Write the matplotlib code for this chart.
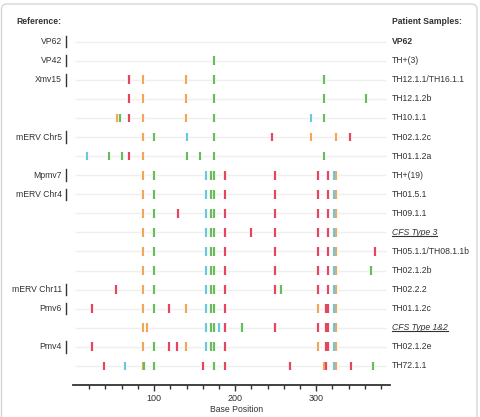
import matplotlib
matplotlib.use("Agg")
import matplotlib.pyplot as plt
from matplotlib.transforms import blended_transform_factory
from matplotlib.patches import FancyBboxPatch
from matplotlib.lines import Line2D

plt.rcParams['font.family'] = ['Liberation Sans', 'DejaVu Sans']

samples = ["VP62", "TH+(3)", "TH12.1.1/TH16.1.1", "TH12.1.2b", "TH10.1.1",
           "TH02.1.2c", "TH01.1.2a", "TH+(19)", "TH01.5.1", "TH09.1.1",
           "CFS Type 3", "TH05.1.1/TH08.1.1b", "TH02.1.2b", "TH02.2.2",
           "TH01.1.2c", "CFS Type 1&2", "TH02.1.2e", "TH72.1.1"]

references = {0: "VP62", 1: "VP42", 2: "Xmv15", 5: "mERV Chr5", 7: "Mpmv7",
              8: "mERV Chr4", 13: "mERV Chr11", 14: "Pmv6", 16: "Pmv4"}

red_pos = [
    [], [], [69], [69], [69], [246, 342], [69],
    [188, 249, 302, 315],
    [188, 249, 302, 315],
    [129, 188, 249, 302, 315],
    [188, 219, 249, 302, 315],
    [188, 249, 302, 315, 372],
    [188, 249, 302, 315],
    [53, 188, 249, 302, 315],
    [24, 118, 188, 312.5, 315],
    [188, 249, 302, 312.5, 315],
    [24, 118, 128.5, 188, 312.5, 315],
    [38, 160.5, 188, 268, 312.5, 342.5],
]

orange_pos = [
    [], [], [86, 139], [86, 139], [54, 86, 139], [86, 293, 324], [86],
    [86, 324], [86, 324], [86, 324], [86, 324], [86, 324], [86, 324], [86, 324],
    [86, 139, 302, 324],
    [86, 91, 324],
    [86, 139, 302, 324],
    [86, 310, 324],
]

green_pos = [
    [], [174], [174, 309], [174, 309, 361], [58.5, 174, 309], [100.5, 174],
    [45, 60.5, 140, 156.5, 174, 309],
    [100.5, 170.5, 174], [100.5, 170.5, 174], [100.5, 170.5, 174],
    [100.5, 170.5, 174], [100.5, 170.5, 174], [100.5, 170.5, 174, 368],
    [100.5, 170.5, 174, 256],
    [100.5, 170.5, 174],
    [170.5, 174, 209],
    [100.5, 170.5, 174],
    [87, 100.5, 174, 370],
]

cyan_pos = [
    [], [], [], [], [293], [140], [17],
    [164, 321.5], [164, 321.5], [164, 321.5], [164, 321.5], [164, 321.5],
    [164, 321.5], [164, 321.5], [164, 321.5], [164, 180, 321.5], [164, 321.5],
    [64, 321.5],
]

colors = {"red": "#e2475f", "orange": "#f2a65a", "green": "#67bd5b", "cyan": "#6ec6dc"}
series = [("orange", orange_pos), ("green", green_pos), ("red", red_pos), ("cyan", cyan_pos)]

FS = 6.2
W, H = 481, 417
fig = plt.figure(figsize=(W / 100, H / 100), dpi=100)

# outer rounded frame
frame = FancyBboxPatch((1.5 / W, -0.05), (477 - 1.5) / W, 1.05 - 4 / H,
                       boxstyle="round,pad=0,rounding_size=0.012",
                       transform=fig.transFigure, facecolor="none",
                       edgecolor="#d6d6d6", lw=1.0)
fig.patches.append(frame)

ax_top, ax_bot = 28.3, 385
ax = fig.add_axes([73 / W, 1 - ax_bot / H, (390 - 73) / W, (ax_bot - ax_top) / H])
ax.set_xlim(0, 391)
ax.set_ylim(19, 0.3)
for s in ["top", "right", "left"]:
    ax.spines[s].set_visible(False)
ax.spines["bottom"].set_linewidth(1.3)
ax.spines["bottom"].set_color("#333333")
ax.set_yticks([])
ax.set_xticks([100, 200, 300])
ax.set_xticks(list(range(20, 391, 20)), minor=True)
ax.tick_params(axis="x", which="major", length=4, width=1, color="#333333",
               labelsize=FS + 0.3, labelcolor="#333333", pad=2.5)
ax.tick_params(axis="x", which="minor", length=3, width=1, color="#333333")

rows = list(range(1, len(samples) + 1))
ax.hlines(rows, 3, 386, color="#efefef", lw=1, zorder=1)

half = 0.23
for cname, pos in series:
    for i, plist in enumerate(pos):
        if plist:
            ax.vlines(plist, rows[i] - half, rows[i] + half, color="white", lw=3.2, zorder=2)
for cname, pos in series:
    for i, plist in enumerate(pos):
        if plist:
            ax.vlines(plist, rows[i] - half, rows[i] + half, color=colors[cname], lw=1.6, zorder=3)

tr = blended_transform_factory(fig.transFigure, ax.transData)

# headers
fig.text(62 / W, 1 - 22 / H, "Reference:", ha="right", va="center", fontsize=FS,
         fontweight="bold", color="#333333")
fig.text(392 / W, 1 - 22 / H, "Patient Samples:", ha="left", va="center", fontsize=FS,
         fontweight="bold", color="#333333")

for i, lab in references.items():
    fig.text(62 / W, rows[i], lab, transform=tr, ha="right", va="center",
             fontsize=FS, color="#333333")
    fig.add_artist(Line2D([65.7 / W, 65.7 / W], [rows[i] - 0.3, rows[i] + 0.3],
                          transform=tr, color="#333333", lw=1))

underline_texts = []
for i, lab in enumerate(samples):
    kw = {}
    if i == 0:
        kw["fontweight"] = "bold"
    if lab.startswith("CFS"):
        kw["fontstyle"] = "italic"
    t = fig.text(392 / W, rows[i], lab, transform=tr, ha="left", va="center",
                 fontsize=FS, color="#333333", **kw)
    if lab.startswith("CFS"):
        underline_texts.append(t)

fig.text(237 / W, 1 - 409 / H, "Base Position", ha="center", va="center",
         fontsize=FS, color="#333333")

fig.canvas.draw()
r = fig.canvas.get_renderer()
for t in underline_texts:
    bb = t.get_window_extent(r)
    inv = fig.transFigure.inverted()
    (x0, y0), (x1, y1) = inv.transform([(bb.x0, bb.y0 + 1.2), (bb.x1, bb.y0 + 1.2)])
    fig.add_artist(Line2D([x0, x1], [y0, y1], transform=fig.transFigure,
                          color="#333333", lw=0.8))

fig.savefig("out.png", dpi=100)
